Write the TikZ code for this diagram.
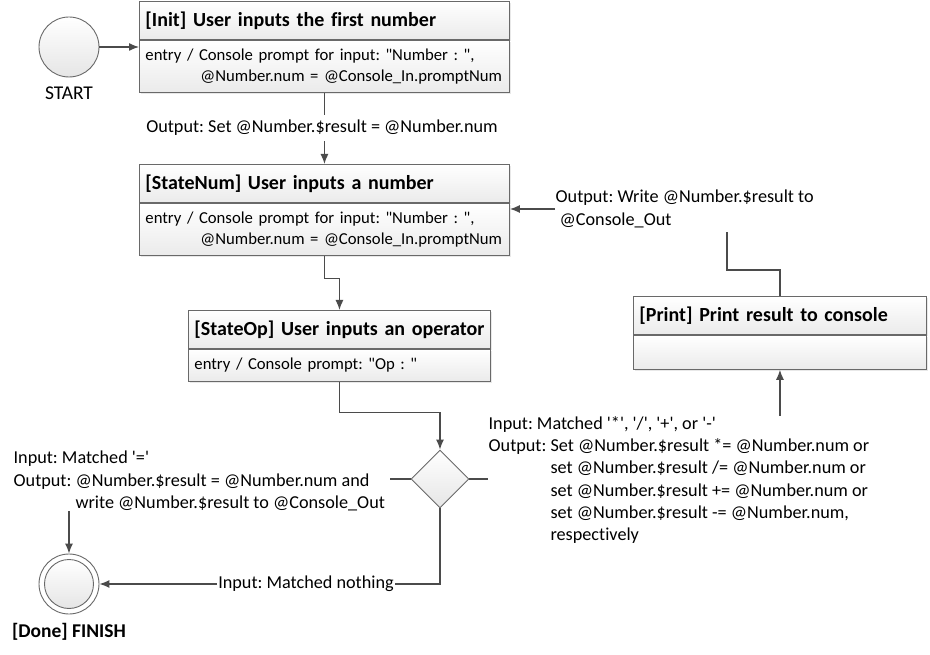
\documentclass[tikz,border=0pt]{standalone}
\usepackage{fontspec}
\setmainfont{Carlito}[Ligatures=NoCommon]
\usetikzlibrary{shapes.geometric,positioning,shadows,arrows.meta}
\frenchspacing

\definecolor{edgegray}{RGB}{75,75,75}
\definecolor{boxgray}{RGB}{105,105,105}
\newcommand{\bodysize}{\fontsize{16.7}{21}\selectfont}
\newcommand{\lblsize}{\fontsize{18.2}{22.2}\selectfont}
\newcommand{\headsize}{\fontsize{20}{24}\selectfont\bfseries}
\newcommand{\termsize}{\fontsize{19.5}{23}\selectfont}
\newcommand{\outind}{\hphantom{Output: }}
\newcommand{\sq}{\textquotesingle}
\newcommand{\dq}{\textquotedbl}

\begin{document}
\begin{tikzpicture}
        [x=1pt, y=-1pt, line width=1.3pt, >={Latex[length=10pt,width=8pt]},
         head/.style={draw=boxgray, line width=0.9pt, top color=white, bottom color=black!8,
           drop shadow={opacity=0.18, shadow xshift=2pt, shadow yshift=-2pt},
           anchor=north west, text width=#1, minimum height=38pt, inner xsep=6pt, align=left, font=\headsize},
         body/.style={draw=boxgray, line width=0.9pt, top color=white, bottom color=black!8,
           drop shadow={opacity=0.18, shadow xshift=2pt, shadow yshift=-2pt},
           text width=#1, minimum height=52pt, inner xsep=6pt, align=left, font=\bodysize},
         term/.style={circle, draw=boxgray, line width=0.9pt, minimum size=#1, inner sep=0pt,
           top color=white, bottom color=black!10},
         decision/.style={diamond, draw=boxgray, line width=0.9pt, minimum width=58pt, minimum height=58pt,
           inner sep=0pt, top color=white, bottom color=black!10},
         lbl/.style={font=\lblsize, align=left, inner sep=0pt},
         flow/.style={draw=edgegray}]

        \useasboundingbox (0,0) rectangle (930,655);

        % start and finish
        \node [term=60pt] (start) at (69,47) {};
        \node [below=5pt of start, font=\termsize] (startlbl) {START};
        \node [term=60pt, top color=white, bottom color=white] (done) at (69,584) {};
        \node [term=49pt] (doneinner) at (done) {};
        \node [below=5pt of done, font=\termsize\bfseries] (donelbl) {[Done] FINISH};

        % states
        \node [head=358pt] (inithd) at (139,1) {[Init] User inputs the first number};
        \node [body=358pt, below=0pt of inithd] (initbd) {entry / Console prompt for input: \dq Number : \dq,\\\hspace*{55pt}@Number.num = @Console\_In.promptNum};

        \node [head=358pt] (numhd) at (139,164) {[StateNum] User inputs a number};
        \node [body=358pt, below=0pt of numhd] (numbd) {entry / Console prompt for input: \dq Number : \dq,\\\hspace*{55pt}@Number.num = @Console\_In.promptNum};

        \node [head=290pt] (ophd) at (188,310) {[StateOp] User inputs an operator};
        \node [body=290pt, below=0pt of ophd, minimum height=32pt] (opbd) {entry / Console prompt: \dq Op : \dq};

        \node [head=281pt] (prhd) at (633,296) {[Print] Print result to console};
        \node [body=281pt, below=0pt of prhd, minimum height=34pt] (prbd) {};

        \node [decision] (dec) at (440,479) {};

        % transition labels
        \node [lbl, inner ysep=5pt] (initout) at (322,128) {Output: Set @Number.\$result = @Number.num};
        \node [lbl, anchor=west] (wrlbl) at (555,209) {Output: Write @Number.\$result to\\\hspace*{4pt}@Console\_Out};
        \node [lbl, anchor=west] (oplbl) at (488,480) {Input: Matched \sq*\sq, \sq/\sq, \sq+\sq, or \sq-\sq\\Output: Set @Number.\$result *= @Number.num or\\\outind set @Number.\$result /= @Number.num or\\\outind set @Number.\$result += @Number.num or\\\outind set @Number.\$result -= @Number.num,\\\outind respectively};
        \node [lbl, anchor=west] (eqlbl) at (13,481) {Input: Matched \sq=\sq\\Output: @Number.\$result = @Number.num and\\\outind write @Number.\$result to @Console\_Out};
        \node [lbl, inner sep=1pt] (nolbl) at (306,584) {Input: Matched nothing};

        \coordinate (eqend) at (390,479);
        \coordinate (wrend) at (727,232);

        % connectors
        \draw[flow,->] (start) -- (start -| initbd.west);
        \draw[flow]    (initbd.south) -- (initbd.south |- initout.north);
        \draw[flow,->] (initbd.south |- initout.south) -- (numhd.north);
        \draw[flow,->] (numbd.south) -- ++(0,23) -| (ophd.north);
        \draw[flow,->] (opbd.south) -- ++(0,31) -| (dec.north);

        \draw[flow]    (dec.west) -- (eqend);
        \draw[flow,->] (done.north |- eqlbl.south) -- (done.north);
        \draw[flow]    (dec.south) |- (nolbl.east);
        \draw[flow,->] (nolbl.west) -- (done.east);

        \draw[flow]    (dec.east) -- (dec.east -| oplbl.west);
        \draw[flow,->] (prbd.south |- oplbl.north) -- (prbd.south);
        \draw[flow]    (prhd.north) -- ++(0,-26) -| (wrend);
        \draw[flow,->] (wrlbl.west) -- (wrlbl.west -| numbd.east);

\end{tikzpicture}
\end{document}
